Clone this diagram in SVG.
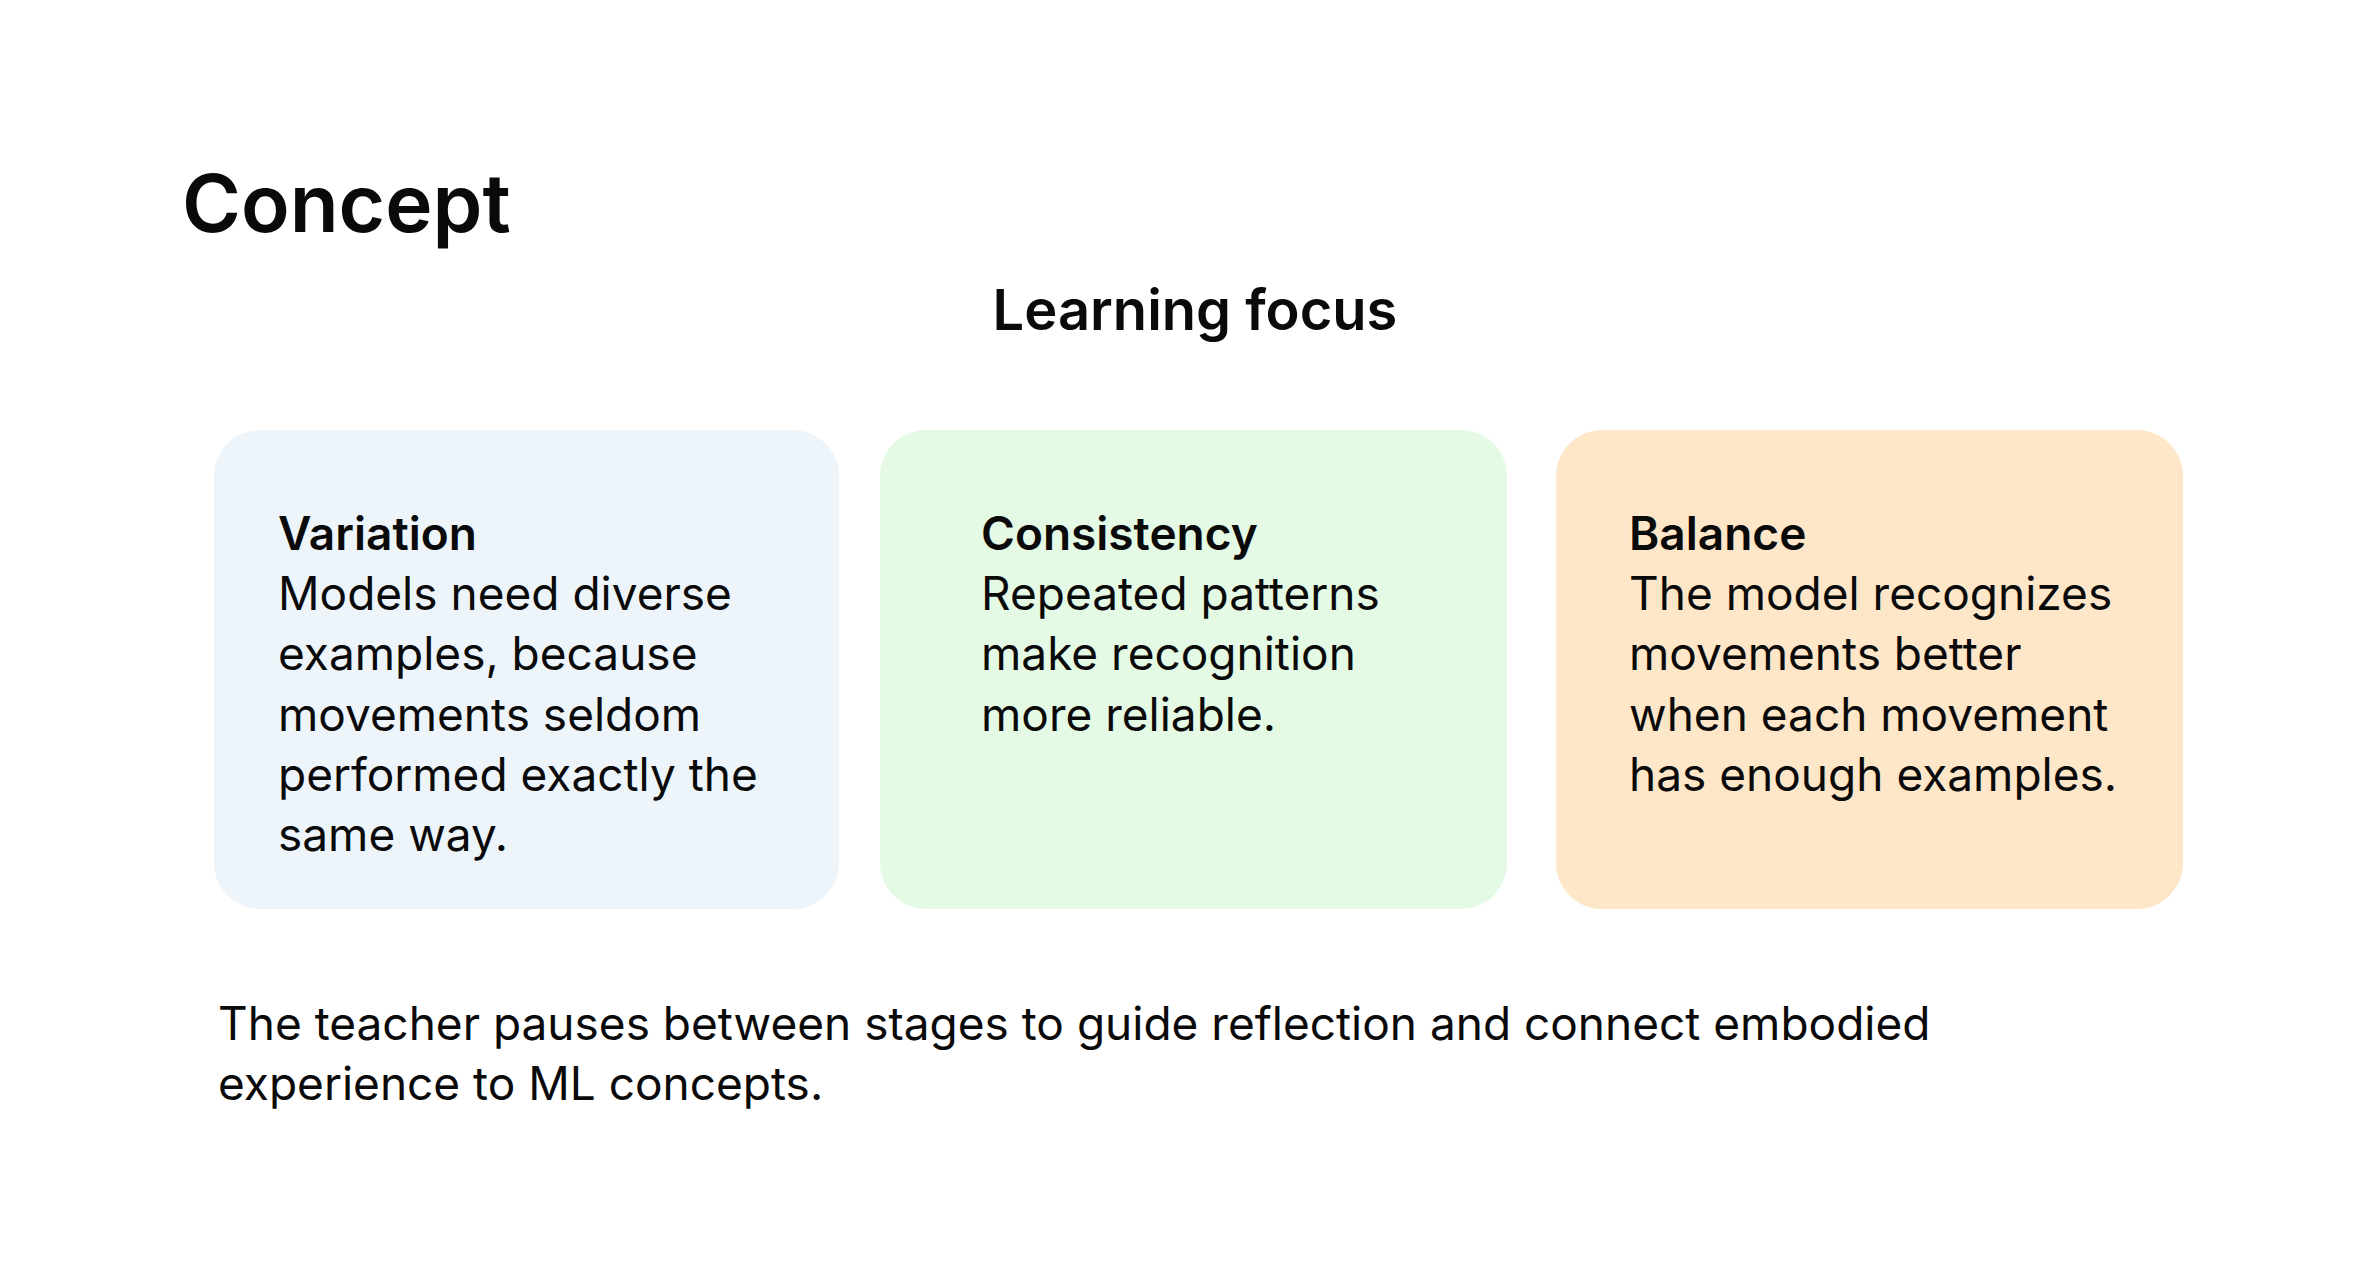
<svg xmlns="http://www.w3.org/2000/svg" width="2380" height="1264" viewBox="0 0 2380 1264">
<style>
text{font-family:Inter,"Noto Sans",sans-serif;fill:#0a0a0a}
.b{font-size:46px}
.t{font-weight:600}
</style>
<rect width="2380" height="1264" fill="#fff"/>
<text x="182" y="232" font-size="80" font-weight="600">Concept</text>
<text x="1195" y="330" font-size="56" font-weight="600" text-anchor="middle">Learning focus</text>
<g id="variation">
<rect x="214" y="430" width="625" height="479" rx="46" fill="#edf5fb"/>
<text class="b" x="278"><tspan class="t" x="278" y="550">Variation</tspan><tspan x="278" y="610">Models need diverse</tspan><tspan x="278" y="670">examples, because</tspan><tspan x="278" y="731">movements seldom</tspan><tspan x="278" y="791">performed exactly the</tspan><tspan x="278" y="851">same way.</tspan></text>
</g>
<g id="consistency">
<rect x="880" y="430" width="627" height="479" rx="46" fill="#e4fae4"/>
<text class="b"><tspan class="t" x="981" y="550">Consistency</tspan><tspan x="981" y="610">Repeated patterns</tspan><tspan x="981" y="670">make recognition</tspan><tspan x="981" y="731">more reliable.</tspan></text>
</g>
<g id="balance">
<rect x="1556" y="430" width="627" height="479" rx="46" fill="#fee6c8"/>
<text class="b"><tspan class="t" x="1629" y="550">Balance</tspan><tspan x="1629" y="610">The model recognizes</tspan><tspan x="1629" y="670">movements better</tspan><tspan x="1629" y="731">when each movement</tspan><tspan x="1629" y="791">has enough examples.</tspan></text>
</g>
<g id="connectors"></g>
<text class="b"><tspan x="218" y="1040">The teacher pauses between stages to guide reflection and connect embodied</tspan><tspan x="218" y="1100">experience to ML concepts.</tspan></text>
</svg>
